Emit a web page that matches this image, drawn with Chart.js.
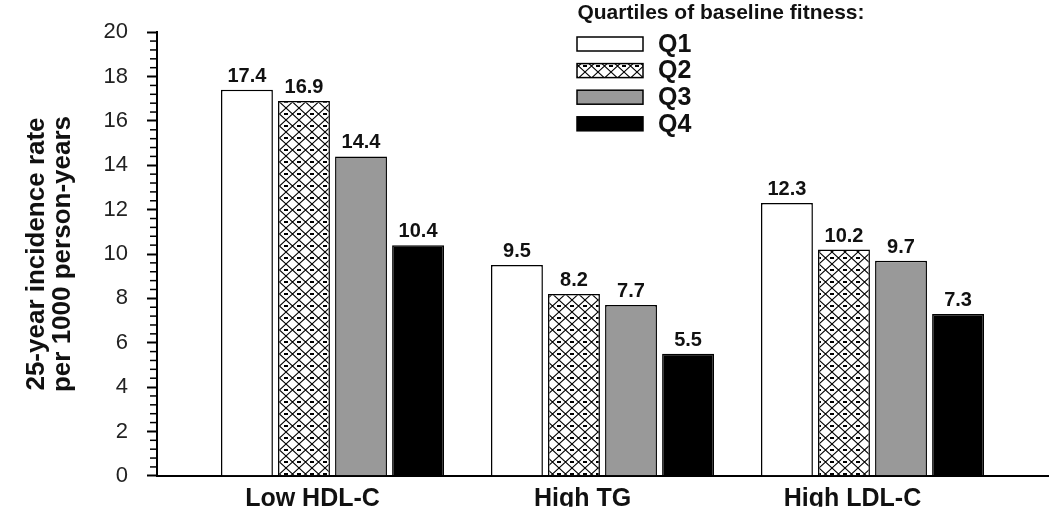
<!DOCTYPE html>
<html>
<head>
<meta charset="utf-8">
<script src="https://cdn.jsdelivr.net/npm/chart.js@4.4.1/dist/chart.umd.min.js"></script>
<style>
html, body { margin: 0; padding: 0; background: #fff; }
#wrap { width: 1050px; height: 508px; position: relative; }
</style>
</head>
<body>
<div id="wrap"><canvas id="chart"></canvas></div>
<script>
const Categories = ["Low HDL-C", "High TG", "High LDL-C"];
const SeriesNames = ["Q1", "Q2", "Q3", "Q4"];
const Q1Values = [17.4, 9.5, 12.3];
const Q2Values = [16.9, 8.2, 10.2];
const Q3Values = [14.4, 7.7, 9.7];
const Q4Values = [10.4, 5.5, 7.3];
const LegendTitle = "Quartiles of baseline fitness:";
const YTitle = ["25-year incidence rate", "per 1000 person-years"];

const FONT = "'Liberation Sans', Arial, sans-serif";

// cross hatch for Q2
function makeHatch() {
    var c = document.createElement('canvas');
    c.width = 13;
    c.height = 12;
    var g = c.getContext('2d');
    g.fillStyle = '#fff';
    g.fillRect(0, 0, 13, 12);
    g.strokeStyle = '#000';
    g.lineWidth = 1.1;
    g.beginPath();
    g.moveTo(0, 0); g.lineTo(13, 12);
    g.moveTo(13, 0); g.lineTo(0, 12);
    g.stroke();
    g.fillStyle = '#000';
    g.fillRect(0, 5, 2, 2);
    g.fillRect(11, 5, 2, 2);
    return g.createPattern(c, 'repeat');
}

function points(values) {
    return values.map(function (v, i) { return {x: i, y: v}; });
}

const fills = ['#ffffff', makeHatch(), '#999999', '#000000'];
const allValues = [Q1Values, Q2Values, Q3Values, Q4Values];

var datasets = SeriesNames.map(function (name, i) {
    return {
        label: name,
        data: points(allValues[i]),
        backgroundColor: fills[i],
        borderColor: '#000',
        borderWidth: 1.5,
        categoryPercentage: 0.845,
        barPercentage: 0.91
    };
});

// value labels above bars
const valueLabels = {
    id: 'valueLabels',
    afterDatasetsDraw(chart) {
        var ctx = chart.ctx;
        ctx.save();
        ctx.font = "bold 20px " + FONT;
        ctx.fillStyle = '#111';
        ctx.textAlign = 'center';
        ctx.textBaseline = 'alphabetic';
        chart.data.datasets.forEach(function (ds, i) {
            chart.getDatasetMeta(i).data.forEach(function (bar, j) {
                ctx.fillText(ds.data[j].y.toFixed(1), bar.x, bar.y - 8);
            });
        });
        ctx.restore();
    }
};

// small ticks between the numbered ones
const minorTicks = {
    id: 'minorTicks',
    afterDraw(chart) {
        var y = chart.scales.y;
        var ctx = chart.ctx;
        var left = chart.chartArea.left;
        ctx.save();
        ctx.strokeStyle = '#000';
        ctx.lineWidth = 1.5;
        for (var k = 1; k < 50; k++) {
            if (k % 5 == 0) continue;
            var py = y.getPixelForValue(k * 0.4);
            ctx.beginPath();
            ctx.moveTo(left - 7, py);
            ctx.lineTo(left, py);
            ctx.stroke();
        }
        ctx.restore();
    }
};

// legend block at top
const topLegend = {
    id: 'topLegend',
    afterDraw(chart) {
        var ctx = chart.ctx;
        ctx.save();
        ctx.fillStyle = '#111';
        ctx.font = "bold 21px " + FONT;
        ctx.textAlign = 'center';
        ctx.textBaseline = 'middle';
        ctx.fillText(LegendTitle, 721, 13);
        ctx.textAlign = 'left';
        ctx.font = "bold 25px " + FONT;
        chart.data.datasets.forEach(function (ds, i) {
            var top = 37 + i * 26.6;
            ctx.fillStyle = ds.backgroundColor;
            ctx.fillRect(577, top, 66, 14);
            ctx.strokeStyle = '#000';
            ctx.lineWidth = 1.5;
            ctx.strokeRect(577, top, 66, 14);
            ctx.fillStyle = '#111';
            ctx.fillText(ds.label, 658, top + 8);
        });
        ctx.restore();
    }
};

var myChart = new Chart(document.getElementById('chart'), {
    type: 'bar',
    data: { datasets: datasets },
    options: {
        responsive: true,
        maintainAspectRatio: false,
        animation: false,
        layout: { padding: { top: 15, right: 2, left: 0, bottom: 0 } },
        plugins: {
            legend: { display: false },
            tooltip: { enabled: false }
        },
        scales: {
            x: {
                type: 'linear',
                min: -0.65,
                max: 2.65,
                offset: false,
                grid: { display: false, offset: false },
                border: { display: true, color: '#000', width: 2 },
                afterBuildTicks: function (scale) {
                    scale.ticks = Categories.map(function (c, i) { return {value: i}; });
                },
                afterFit: function (scale) { scale.height = 31; },
                ticks: {
                    autoSkip: false,
                    maxRotation: 0,
                    padding: 0,
                    labelOffset: -20,
                    color: '#111',
                    font: { family: FONT, size: 25, weight: 'bold' },
                    callback: function (v) { return Categories[v]; }
                }
            },
            y: {
                min: 0,
                max: 20,
                afterFit: function (scale) { scale.width = 157; },
                grid: {
                    drawOnChartArea: false,
                    drawTicks: true,
                    tickLength: 10,
                    tickColor: '#000',
                    tickWidth: 2
                },
                border: { display: true, color: '#000', width: 2 },
                ticks: {
                    stepSize: 2,
                    padding: 19,
                    color: '#222',
                    font: { family: FONT, size: 22 }
                },
                title: {
                    display: true,
                    text: YTitle,
                    color: '#111',
                    padding: { top: 24, bottom: 0 },
                    font: { family: FONT, size: 26, weight: 'bold', lineHeight: 1.0 }
                }
            }
        }
    },
    plugins: [valueLabels, minorTicks, topLegend]
});
</script>
</body>
</html>
